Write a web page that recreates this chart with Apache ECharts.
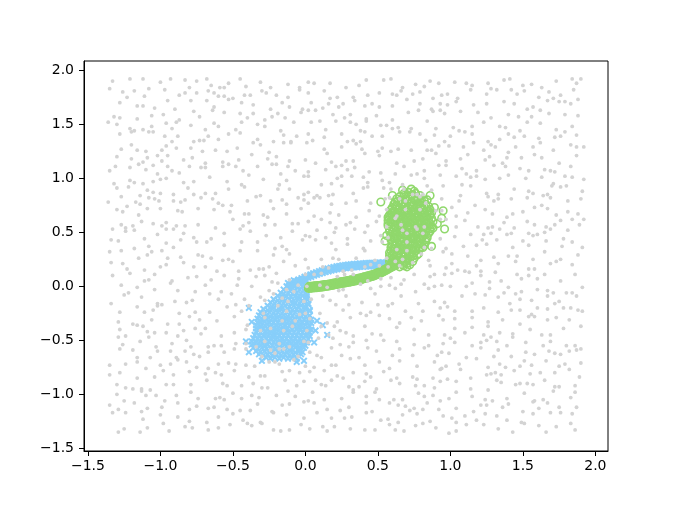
<!DOCTYPE html>
<html>
<head>
<meta charset="utf-8">
<script src="https://cdn.jsdelivr.net/npm/echarts@6/dist/echarts.min.js"></script>
<style>
html,body{margin:0;padding:0;background:#fff;}
#chart{width:675px;height:507px;}
</style>
</head>
<body>
<div id="chart"></div>
<script>
// tick labels
const xTicks = [-1.5, -1.0, -0.5, 0.0, 0.5, 1.0, 1.5, 2.0];
const yTicks = [-1.5, -1.0, -0.5, 0.0, 0.5, 1.0, 1.5, 2.0];

// blue "x" cluster (dense blob)
const blueCluster = [
[-0.08,0.055],[-0.05,0.06],[-0.02,0.05],
[-0.12,0.03],[-0.09,0.02],[-0.06,0.03],[-0.03,0.02],[0.00,0.04],
[-0.13,0.00],[-0.11,-0.01],[-0.08,0.00],[-0.05,-0.01],[-0.02,0.00],[0.01,-0.01],
[-0.15,-0.03],[-0.13,-0.04],[-0.10,-0.03],[-0.07,-0.04],[-0.04,-0.03],[-0.01,-0.04],[0.01,-0.02],
[-0.17,-0.06],[-0.15,-0.07],[-0.12,-0.06],[-0.09,-0.07],[-0.06,-0.06],[-0.03,-0.07],[0.00,-0.06],[0.01,-0.08],
[-0.19,-0.09],[-0.16,-0.10],[-0.13,-0.09],[-0.10,-0.10],[-0.07,-0.09],[-0.05,-0.10],[-0.02,-0.09],[0.01,-0.10],
[-0.22,-0.12],[-0.19,-0.13],[-0.16,-0.12],[-0.14,-0.13],[-0.11,-0.12],[-0.08,-0.13],[-0.05,-0.12],[-0.02,-0.13],[0.01,-0.12],
[-0.24,-0.15],[-0.21,-0.16],[-0.18,-0.15],[-0.15,-0.16],[-0.12,-0.15],[-0.09,-0.16],[-0.07,-0.15],[-0.04,-0.16],[-0.01,-0.15],[0.02,-0.16],
[-0.26,-0.18],[-0.23,-0.19],[-0.20,-0.18],[-0.17,-0.19],[-0.14,-0.18],[-0.11,-0.19],[-0.08,-0.18],[-0.05,-0.19],[-0.03,-0.18],[0.00,-0.19],[0.02,-0.17],
[-0.29,-0.21],[-0.26,-0.22],[-0.23,-0.21],[-0.20,-0.22],[-0.17,-0.21],[-0.14,-0.22],[-0.12,-0.21],[-0.09,-0.22],[-0.06,-0.21],[-0.03,-0.22],[0.00,-0.21],[0.03,-0.22],
[-0.31,-0.24],[-0.28,-0.25],[-0.25,-0.24],[-0.22,-0.25],[-0.19,-0.24],[-0.16,-0.25],[-0.13,-0.24],[-0.10,-0.25],[-0.07,-0.24],[-0.04,-0.25],[-0.02,-0.24],[0.01,-0.25],[0.03,-0.23],
[-0.32,-0.27],[-0.29,-0.28],[-0.27,-0.27],[-0.24,-0.28],[-0.21,-0.27],[-0.18,-0.28],[-0.15,-0.27],[-0.12,-0.28],[-0.09,-0.27],[-0.06,-0.28],[-0.03,-0.27],[0.00,-0.28],[0.03,-0.27],
[-0.33,-0.30],[-0.30,-0.31],[-0.27,-0.30],[-0.24,-0.31],[-0.21,-0.30],[-0.18,-0.31],[-0.15,-0.30],[-0.13,-0.31],[-0.10,-0.30],[-0.07,-0.31],[-0.04,-0.30],[-0.01,-0.31],[0.02,-0.30],[0.04,-0.31],
[-0.33,-0.33],[-0.31,-0.34],[-0.28,-0.33],[-0.25,-0.34],[-0.22,-0.33],[-0.19,-0.34],[-0.16,-0.33],[-0.13,-0.34],[-0.10,-0.33],[-0.08,-0.34],[-0.05,-0.33],[-0.02,-0.34],[0.01,-0.33],[0.04,-0.34],
[-0.34,-0.36],[-0.31,-0.37],[-0.28,-0.36],[-0.25,-0.37],[-0.23,-0.36],[-0.20,-0.37],[-0.17,-0.36],[-0.14,-0.37],[-0.11,-0.36],[-0.08,-0.37],[-0.05,-0.36],[-0.03,-0.37],[0.00,-0.36],[0.03,-0.37],
[-0.34,-0.39],[-0.32,-0.40],[-0.29,-0.39],[-0.26,-0.40],[-0.23,-0.39],[-0.20,-0.40],[-0.17,-0.39],[-0.14,-0.40],[-0.12,-0.39],[-0.09,-0.40],[-0.06,-0.39],[-0.03,-0.40],[0.00,-0.39],[0.04,-0.40],
[-0.34,-0.42],[-0.31,-0.43],[-0.28,-0.42],[-0.26,-0.43],[-0.23,-0.42],[-0.20,-0.43],[-0.17,-0.42],[-0.14,-0.43],[-0.11,-0.42],[-0.08,-0.43],[-0.05,-0.42],[-0.02,-0.43],[0.01,-0.42],[0.03,-0.43],
[-0.35,-0.45],[-0.32,-0.46],[-0.29,-0.45],[-0.26,-0.46],[-0.23,-0.45],[-0.21,-0.46],[-0.18,-0.45],[-0.15,-0.46],[-0.12,-0.45],[-0.09,-0.46],[-0.06,-0.45],[-0.03,-0.46],[0.00,-0.45],[0.03,-0.46],
[-0.36,-0.48],[-0.33,-0.49],[-0.30,-0.48],[-0.27,-0.49],[-0.24,-0.48],[-0.21,-0.49],[-0.19,-0.48],[-0.16,-0.49],[-0.13,-0.48],[-0.10,-0.49],[-0.07,-0.48],[-0.04,-0.49],[-0.01,-0.48],[0.02,-0.49],
[-0.37,-0.51],[-0.34,-0.52],[-0.31,-0.51],[-0.28,-0.52],[-0.25,-0.51],[-0.22,-0.52],[-0.19,-0.51],[-0.17,-0.52],[-0.14,-0.51],[-0.11,-0.52],[-0.08,-0.51],[-0.05,-0.52],[-0.02,-0.51],[0.01,-0.52],
[-0.37,-0.54],[-0.34,-0.55],[-0.31,-0.54],[-0.28,-0.55],[-0.26,-0.54],[-0.23,-0.55],[-0.20,-0.54],[-0.17,-0.55],[-0.14,-0.54],[-0.11,-0.55],[-0.08,-0.54],[-0.05,-0.55],[-0.02,-0.54],[0.00,-0.55],
[-0.36,-0.57],[-0.33,-0.58],[-0.30,-0.57],[-0.27,-0.58],[-0.24,-0.57],[-0.21,-0.58],[-0.18,-0.57],[-0.15,-0.58],[-0.12,-0.57],[-0.10,-0.58],[-0.07,-0.57],[-0.04,-0.58],[-0.01,-0.57],
[-0.34,-0.60],[-0.31,-0.61],[-0.28,-0.60],[-0.25,-0.61],[-0.22,-0.60],[-0.19,-0.61],[-0.16,-0.60],[-0.13,-0.61],[-0.10,-0.60],[-0.07,-0.61],[-0.04,-0.60],[-0.02,-0.61],
[-0.32,-0.63],[-0.29,-0.64],[-0.26,-0.63],[-0.23,-0.64],[-0.20,-0.63],[-0.17,-0.64],[-0.14,-0.63],[-0.11,-0.64],[-0.08,-0.63],[-0.05,-0.64],[-0.03,-0.63],
[-0.27,-0.66],[-0.24,-0.67],[-0.21,-0.66],[-0.18,-0.67],[-0.15,-0.66],[-0.12,-0.67],[-0.09,-0.66],[-0.06,-0.67],
[-0.39,-0.20],[-0.37,-0.33],[0.08,-0.32],[0.12,-0.36],[0.15,-0.45],[-0.39,-0.61],[-0.06,-0.70],[-0.01,-0.69],[0.06,-0.52],[-0.41,-0.51],[0.07,-0.41],[-0.30,-0.69]
];

// blue "x" trail (upper arc)
const blueTrail = [
[-0.12,-0.015],[-0.115,0.002],[-0.105,0.018],
[-0.10,0.0],[-0.093,0.016],[-0.087,0.031],
[-0.08,0.013],[-0.074,0.03],[-0.066,0.046],
[-0.06,0.028],[-0.053,0.045],[-0.047,0.061],
[-0.04,0.042],[-0.034,0.058],[-0.027,0.075],
[-0.02,0.055],[-0.013,0.071],[-0.006,0.088],
[0.00,0.066],[0.007,0.083],[0.013,0.10],
[0.02,0.078],[0.027,0.094],[0.034,0.11],
[0.04,0.087],[0.046,0.104],[0.053,0.121],
[0.06,0.098],[0.067,0.114],[0.073,0.13],
[0.08,0.106],[0.087,0.123],[0.094,0.14],
[0.10,0.116],[0.106,0.132],[0.113,0.148],
[0.12,0.123],[0.127,0.14],[0.134,0.157],
[0.14,0.132],[0.146,0.148],[0.153,0.164],
[0.16,0.138],[0.167,0.155],[0.174,0.172],
[0.18,0.146],[0.186,0.162],[0.193,0.178],
[0.20,0.151],[0.207,0.168],[0.214,0.185],
[0.22,0.157],[0.226,0.173],[0.233,0.189],
[0.24,0.16],[0.247,0.177],[0.254,0.194],
[0.26,0.165],[0.266,0.181],[0.273,0.197],
[0.28,0.167],[0.287,0.184],[0.294,0.201],
[0.30,0.171],[0.306,0.187],[0.313,0.203],
[0.32,0.173],[0.327,0.19],[0.334,0.207],
[0.34,0.176],[0.346,0.192],[0.353,0.208],
[0.36,0.177],[0.367,0.194],[0.374,0.211],
[0.38,0.18],[0.386,0.196],[0.393,0.212],
[0.40,0.181],[0.407,0.198],[0.414,0.215],
[0.42,0.184],[0.426,0.20],[0.433,0.216],
[0.44,0.184],[0.447,0.201],[0.454,0.218],
[0.46,0.186],[0.466,0.202],[0.473,0.218],
[0.48,0.186],[0.487,0.203],[0.494,0.22],
[0.50,0.188],[0.506,0.204],[0.513,0.22],
[0.52,0.188],[0.527,0.205],[0.534,0.222],
[0.54,0.189],[0.546,0.205],[0.553,0.221],
[0.56,0.188],[0.567,0.205],[0.574,0.222],
[0.58,0.189],[0.586,0.205]
];

// green "o" cluster
const greenCluster = [
[0.68,0.86],[0.71,0.87],[0.74,0.85],[0.76,0.86],
[0.65,0.83],[0.68,0.84],[0.71,0.83],[0.73,0.84],[0.76,0.83],[0.79,0.84],
[0.63,0.81],[0.66,0.80],[0.69,0.81],[0.72,0.81],[0.75,0.80],[0.78,0.81],[0.80,0.80],
[0.62,0.78],[0.64,0.79],[0.67,0.78],[0.70,0.79],[0.73,0.78],[0.76,0.79],[0.79,0.78],[0.82,0.79],
[0.61,0.76],[0.63,0.75],[0.66,0.76],[0.69,0.75],[0.72,0.76],[0.74,0.75],[0.77,0.76],[0.80,0.75],[0.83,0.76],
[0.60,0.73],[0.62,0.74],[0.65,0.73],[0.68,0.74],[0.71,0.73],[0.74,0.74],[0.77,0.73],[0.79,0.74],[0.82,0.73],[0.85,0.74],
[0.59,0.71],[0.61,0.70],[0.64,0.71],[0.67,0.70],[0.70,0.71],[0.73,0.70],[0.75,0.71],[0.78,0.70],[0.81,0.71],[0.84,0.70],[0.86,0.71],
[0.59,0.68],[0.62,0.69],[0.65,0.68],[0.68,0.69],[0.71,0.68],[0.74,0.69],[0.76,0.68],[0.79,0.69],[0.82,0.68],[0.85,0.69],[0.87,0.68],
[0.58,0.66],[0.60,0.65],[0.63,0.66],[0.66,0.65],[0.69,0.66],[0.72,0.65],[0.75,0.66],[0.77,0.65],[0.80,0.66],[0.83,0.65],[0.86,0.66],
[0.58,0.63],[0.61,0.64],[0.64,0.63],[0.67,0.64],[0.70,0.63],[0.73,0.64],[0.76,0.63],[0.78,0.64],[0.81,0.63],[0.84,0.64],[0.87,0.63],
[0.57,0.61],[0.59,0.60],[0.62,0.61],[0.65,0.60],[0.68,0.61],[0.71,0.60],[0.74,0.61],[0.77,0.60],[0.79,0.61],[0.82,0.60],[0.85,0.61],[0.88,0.60],
[0.57,0.58],[0.60,0.59],[0.63,0.58],[0.66,0.59],[0.69,0.58],[0.72,0.59],[0.75,0.58],[0.78,0.59],[0.80,0.58],[0.83,0.59],[0.86,0.58],
[0.57,0.56],[0.59,0.55],[0.62,0.56],[0.65,0.55],[0.68,0.56],[0.71,0.55],[0.73,0.56],[0.76,0.55],[0.79,0.56],[0.82,0.55],[0.85,0.56],[0.87,0.55],
[0.58,0.53],[0.61,0.54],[0.64,0.53],[0.67,0.54],[0.70,0.53],[0.72,0.54],[0.75,0.53],[0.78,0.54],[0.81,0.53],[0.84,0.54],[0.86,0.53],
[0.58,0.51],[0.60,0.50],[0.63,0.51],[0.66,0.50],[0.69,0.51],[0.72,0.50],[0.74,0.51],[0.77,0.50],[0.80,0.51],[0.83,0.50],[0.86,0.51],
[0.59,0.48],[0.62,0.49],[0.65,0.48],[0.67,0.49],[0.70,0.48],[0.73,0.49],[0.76,0.48],[0.79,0.49],[0.82,0.48],[0.85,0.49],
[0.59,0.46],[0.61,0.45],[0.64,0.46],[0.67,0.45],[0.70,0.46],[0.73,0.45],[0.75,0.46],[0.78,0.45],[0.81,0.46],[0.84,0.45],
[0.59,0.43],[0.62,0.44],[0.65,0.43],[0.68,0.44],[0.71,0.43],[0.74,0.44],[0.77,0.43],[0.80,0.44],[0.83,0.43],
[0.60,0.41],[0.63,0.40],[0.66,0.41],[0.69,0.40],[0.71,0.41],[0.74,0.40],[0.77,0.41],[0.80,0.40],[0.83,0.41],
[0.60,0.38],[0.62,0.39],[0.65,0.38],[0.68,0.39],[0.71,0.38],[0.74,0.39],[0.77,0.38],[0.79,0.39],[0.82,0.38],
[0.59,0.36],[0.62,0.35],[0.65,0.36],[0.68,0.35],[0.70,0.36],[0.73,0.35],[0.76,0.36],[0.79,0.35],[0.81,0.36],
[0.59,0.33],[0.61,0.34],[0.64,0.33],[0.67,0.34],[0.70,0.33],[0.73,0.34],[0.76,0.33],[0.78,0.34],
[0.58,0.31],[0.61,0.30],[0.64,0.31],[0.66,0.30],[0.69,0.31],[0.72,0.30],[0.75,0.31],[0.78,0.30],
[0.58,0.28],[0.60,0.29],[0.63,0.28],[0.66,0.29],[0.69,0.28],[0.72,0.29],[0.74,0.28],[0.77,0.29],
[0.58,0.26],[0.61,0.25],[0.64,0.26],[0.67,0.25],[0.70,0.26],[0.72,0.25],[0.75,0.26],
[0.58,0.23],[0.60,0.24],[0.63,0.23],[0.66,0.24],[0.69,0.23],[0.71,0.24],[0.74,0.23],
[0.59,0.21],[0.61,0.20],[0.64,0.21],[0.67,0.20],[0.70,0.21],[0.72,0.20],
[0.60,0.18],[0.62,0.19],[0.65,0.18],[0.68,0.19],[0.70,0.18],
[0.52,0.78],[0.60,0.84],[0.67,0.89],[0.73,0.90],[0.75,0.88],[0.86,0.84],[0.89,0.73],[0.95,0.70],[0.94,0.63],[0.96,0.53],[0.88,0.54],[0.87,0.37],[0.56,0.47],[0.57,0.64],[0.84,0.80],[0.91,0.58],[0.55,0.42]
];

// green "o" trail (lower arc)
const greenTrail = [
[0.02,-0.019],[0.025,-0.001],[0.03,-0.018],[0.035,0.0],[0.04,-0.017],[0.045,0.001],[0.05,-0.015],[0.055,0.003],[0.06,-0.014],[0.065,0.004],
[0.07,-0.013],[0.075,0.005],[0.08,-0.012],[0.085,0.006],[0.09,-0.01],[0.095,0.008],[0.10,-0.009],[0.105,0.009],[0.11,-0.007],[0.115,0.011],
[0.12,-0.005],[0.125,0.013],[0.13,-0.003],[0.135,0.015],[0.14,-0.001],[0.145,0.017],[0.15,0.001],[0.155,0.019],[0.16,0.003],[0.165,0.021],
[0.17,0.006],[0.175,0.024],[0.18,0.008],[0.185,0.026],[0.19,0.011],[0.195,0.029],[0.20,0.013],[0.205,0.031],[0.21,0.016],[0.215,0.034],
[0.22,0.018],[0.225,0.036],[0.23,0.021],[0.235,0.039],[0.24,0.023],[0.245,0.041],[0.25,0.026],[0.255,0.044],[0.26,0.028],[0.265,0.046],
[0.27,0.031],[0.275,0.049],[0.28,0.033],[0.285,0.051],[0.29,0.036],[0.295,0.054],[0.30,0.038],[0.305,0.056],[0.31,0.041],[0.315,0.059],
[0.32,0.043],[0.325,0.061],[0.33,0.046],[0.335,0.064],[0.34,0.049],[0.345,0.067],[0.35,0.052],[0.355,0.07],[0.36,0.055],[0.365,0.073],
[0.37,0.058],[0.375,0.076],[0.38,0.061],[0.385,0.079],[0.39,0.065],[0.395,0.083],[0.40,0.069],[0.405,0.087],[0.41,0.072],[0.415,0.09],
[0.42,0.076],[0.425,0.094],[0.43,0.08],[0.435,0.098],[0.44,0.084],[0.445,0.102],[0.45,0.087],[0.455,0.105],[0.46,0.091],[0.465,0.109],
[0.47,0.096],[0.475,0.114],[0.48,0.101],[0.485,0.119],[0.49,0.106],[0.495,0.124],[0.50,0.111],[0.505,0.129],[0.51,0.117],[0.515,0.135],
[0.52,0.123],[0.525,0.141],[0.53,0.129],[0.535,0.147],[0.54,0.136],[0.545,0.154],[0.55,0.143],[0.555,0.161],[0.56,0.15],[0.565,0.168],
[0.57,0.158],[0.575,0.176],[0.58,0.166],[0.585,0.184],[0.59,0.174],[0.595,0.192],[0.60,0.183],[0.605,0.201],[0.61,0.192],[0.615,0.21],
[0.62,0.201],[0.625,0.219],[0.63,0.211],[0.635,0.229]
];

// light gray background points
const noise = [
[-1.29,-1.35],[-1.25,-1.32],[-1.14,-1.35],[-1.09,-1.31],[-0.98,-1.27],[-0.94,-1.34],[-0.83,-1.30],[-0.78,-1.31],[-0.67,-1.33],[-0.60,-1.31],[-0.52,-1.28],[-0.40,-1.27],[-0.37,-1.29],[-0.30,-1.27],[-0.22,-1.33],[-0.17,-1.34],[-0.11,-1.33],[-0.03,-1.28],[0.03,-1.32],[0.12,-1.30],[0.15,-1.34],[0.20,-1.30],[0.31,-1.32],[0.41,-1.33],[0.48,-1.33],[0.58,-1.28],[0.62,-1.33],[0.68,-1.34],[0.76,-1.29],[0.81,-1.27],[0.90,-1.31],[0.99,-1.36],[1.04,-1.34],[1.11,-1.28],[1.23,-1.28],[1.33,-1.32],[1.43,-1.35],[1.51,-1.27],[1.61,-1.29],[1.66,-1.35],[1.73,-1.30],[1.83,-1.27],[1.86,-1.33],
[-1.33,-1.17],[-1.24,-1.17],[-1.12,-1.23],[-1.00,-1.19],[-0.88,-1.21],[-0.80,-1.25],[-0.68,-1.26],[-0.60,-1.21],[-0.50,-1.18],[-0.43,-1.24],[-0.31,-1.26],[-0.22,-1.17],[-0.13,-1.19],[-0.01,-1.22],[0.08,-1.17],[0.18,-1.22],[0.27,-1.22],[0.32,-1.21],[0.42,-1.17],[0.52,-1.24],[0.57,-1.23],[0.64,-1.26],[0.67,-1.19],[0.77,-1.18],[0.86,-1.25],[0.95,-1.20],[1.01,-1.22],[1.04,-1.26],[1.10,-1.20],[1.18,-1.24],[1.24,-1.18],[1.32,-1.20],[1.39,-1.24],[1.49,-1.26],[1.57,-1.18],[1.69,-1.17],[1.76,-1.17],[1.84,-1.18],
[-1.35,-1.10],[-1.29,-1.14],[-1.18,-1.08],[-1.13,-1.16],[-1.09,-1.13],[-0.99,-1.12],[-0.88,-1.08],[-0.80,-1.14],[-0.75,-1.11],[-0.67,-1.13],[-0.63,-1.12],[-0.54,-1.14],[-0.45,-1.15],[-0.38,-1.15],[-0.33,-1.09],[-0.23,-1.16],[-0.16,-1.10],[-0.11,-1.09],[-0.01,-1.07],[0.06,-1.08],[0.15,-1.14],[0.24,-1.15],[0.30,-1.12],[0.42,-1.08],[0.46,-1.16],[0.58,-1.08],[0.64,-1.10],[0.69,-1.11],[0.72,-1.15],[0.75,-1.13],[0.81,-1.14],[0.84,-1.08],[0.92,-1.14],[1.04,-1.13],[1.16,-1.16],[1.21,-1.10],[1.25,-1.10],[1.36,-1.12],[1.40,-1.09],[1.50,-1.16],[1.57,-1.07],[1.61,-1.13],[1.67,-1.08],[1.75,-1.12],[1.87,-1.12],
[-1.30,-1.00],[-1.25,-1.06],[-1.13,-0.97],[-1.10,-1.01],[-1.03,-1.01],[-0.97,-1.06],[-0.89,-1.01],[-0.79,-0.98],[-0.74,-1.04],[-0.62,-1.04],[-0.59,-1.03],[-0.56,-1.05],[-0.50,-0.99],[-0.44,-1.04],[-0.37,-1.01],[-0.32,-1.03],[-0.20,-1.01],[-0.12,-0.97],[-0.07,-1.02],[0.02,-1.06],[0.05,-0.98],[0.13,-1.05],[0.25,-1.04],[0.33,-0.98],[0.42,-1.02],[0.48,-0.98],[0.51,-1.05],[0.61,-1.05],[0.67,-1.05],[0.78,-0.99],[0.82,-1.02],[0.88,-1.01],[0.93,-1.06],[0.99,-1.04],[1.04,-0.98],[1.15,-1.02],[1.24,-1.05],[1.29,-1.06],[1.39,-1.04],[1.51,-0.99],[1.58,-1.06],[1.64,-1.05],[1.71,-0.97],[1.83,-1.03],[1.86,-0.98],
[-1.30,-0.91],[-1.24,-0.94],[-1.19,-0.95],[-1.13,-0.95],[-1.07,-0.96],[-0.96,-0.91],[-0.91,-0.91],[-0.79,-0.91],[-0.68,-0.87],[-0.57,-0.90],[-0.54,-0.92],[-0.44,-0.92],[-0.36,-0.90],[-0.30,-0.94],[-0.26,-0.94],[-0.14,-0.87],[-0.06,-0.92],[-0.01,-0.88],[0.07,-0.87],[0.11,-0.91],[0.14,-0.92],[0.18,-0.87],[0.30,-0.93],[0.33,-0.96],[0.37,-0.93],[0.41,-0.88],[0.49,-0.95],[0.59,-0.87],[0.65,-0.90],[0.76,-0.92],[0.82,-0.92],[0.89,-0.94],[0.93,-0.88],[1.04,-0.88],[1.14,-0.95],[1.26,-0.96],[1.32,-0.87],[1.35,-0.89],[1.45,-0.91],[1.48,-0.90],[1.53,-0.90],[1.57,-0.91],[1.65,-0.87],[1.72,-0.93],[1.75,-0.93],[1.86,-0.92],
[-1.35,-0.82],[-1.28,-0.80],[-1.16,-0.85],[-1.04,-0.84],[-0.98,-0.78],[-0.91,-0.82],[-0.80,-0.79],[-0.69,-0.81],[-0.62,-0.80],[-0.58,-0.82],[-0.49,-0.78],[-0.39,-0.84],[-0.31,-0.83],[-0.28,-0.83],[-0.16,-0.79],[-0.11,-0.78],[-0.04,-0.80],[0.03,-0.79],[0.13,-0.78],[0.22,-0.83],[0.26,-0.85],[0.33,-0.80],[0.42,-0.81],[0.45,-0.84],[0.54,-0.79],[0.63,-0.85],[0.74,-0.84],[0.77,-0.86],[0.88,-0.85],[0.93,-0.77],[0.98,-0.86],[1.07,-0.77],[1.14,-0.85],[1.25,-0.82],[1.28,-0.81],[1.31,-0.80],[1.35,-0.82],[1.44,-0.78],[1.55,-0.81],[1.62,-0.80],[1.72,-0.80],[1.82,-0.77],[1.89,-0.84],
[-1.35,-0.73],[-1.24,-0.72],[-1.16,-0.70],[-1.10,-0.76],[-1.00,-0.73],[-0.93,-0.72],[-0.88,-0.68],[-0.82,-0.70],[-0.75,-0.75],[-0.67,-0.76],[-0.60,-0.72],[-0.53,-0.71],[-0.48,-0.72],[-0.41,-0.73],[-0.35,-0.74],[-0.25,-0.70],[-0.21,-0.70],[-0.18,-0.72],[-0.08,-0.68],[0.00,-0.74],[0.06,-0.75],[0.18,-0.73],[0.21,-0.73],[0.31,-0.67],[0.41,-0.73],[0.51,-0.70],[0.58,-0.76],[0.65,-0.69],[0.77,-0.74],[0.89,-0.70],[0.94,-0.76],[0.97,-0.74],[1.06,-0.72],[1.18,-0.67],[1.26,-0.75],[1.34,-0.72],[1.38,-0.75],[1.48,-0.74],[1.51,-0.69],[1.56,-0.73],[1.66,-0.69],[1.75,-0.74],[1.79,-0.72],[1.90,-0.71],
[-1.28,-0.58],[-1.19,-0.59],[-1.16,-0.66],[-1.07,-0.66],[-1.02,-0.60],[-0.93,-0.60],[-0.89,-0.66],[-0.83,-0.60],[-0.77,-0.63],[-0.73,-0.65],[-0.67,-0.61],[-0.56,-0.61],[-0.49,-0.58],[-0.41,-0.58],[-0.30,-0.65],[-0.24,-0.59],[-0.21,-0.62],[-0.18,-0.58],[-0.15,-0.58],[-0.05,-0.65],[0.03,-0.61],[0.08,-0.64],[0.11,-0.66],[0.18,-0.57],[0.25,-0.64],[0.37,-0.66],[0.43,-0.57],[0.49,-0.60],[0.60,-0.64],[0.65,-0.58],[0.74,-0.64],[0.82,-0.57],[0.91,-0.64],[0.94,-0.61],[0.99,-0.62],[1.11,-0.66],[1.21,-0.57],[1.30,-0.65],[1.33,-0.59],[1.42,-0.65],[1.52,-0.61],[1.58,-0.63],[1.68,-0.60],[1.72,-0.62],[1.76,-0.63],[1.82,-0.60],[1.87,-0.59],[1.90,-0.58],
[-1.29,-0.47],[-1.26,-0.54],[-1.14,-0.51],[-1.08,-0.47],[-1.03,-0.56],[-0.92,-0.53],[-0.82,-0.50],[-0.79,-0.56],[-0.67,-0.56],[-0.63,-0.55],[-0.58,-0.55],[-0.48,-0.53],[-0.41,-0.53],[-0.34,-0.56],[-0.28,-0.51],[-0.18,-0.53],[-0.11,-0.56],[-0.01,-0.51],[0.02,-0.52],[0.09,-0.48],[0.19,-0.48],[0.24,-0.54],[0.30,-0.56],[0.33,-0.52],[0.42,-0.50],[0.54,-0.50],[0.63,-0.51],[0.75,-0.54],[0.85,-0.55],[0.95,-0.53],[1.00,-0.48],[1.03,-0.52],[1.15,-0.55],[1.21,-0.52],[1.25,-0.50],[1.28,-0.47],[1.32,-0.51],[1.39,-0.55],[1.43,-0.47],[1.52,-0.52],[1.64,-0.55],[1.69,-0.51],[1.80,-0.55],[1.86,-0.55],
[-1.28,-0.40],[-1.24,-0.46],[-1.12,-0.37],[-1.09,-0.42],[-1.04,-0.43],[-0.96,-0.43],[-0.88,-0.46],[-0.84,-0.41],[-0.76,-0.39],[-0.72,-0.44],[-0.69,-0.39],[-0.58,-0.46],[-0.49,-0.43],[-0.41,-0.40],[-0.31,-0.41],[-0.24,-0.39],[-0.15,-0.41],[-0.09,-0.37],[0.01,-0.41],[0.11,-0.37],[0.16,-0.45],[0.20,-0.37],[0.24,-0.41],[0.28,-0.43],[0.33,-0.46],[0.41,-0.37],[0.46,-0.44],[0.52,-0.45],[0.63,-0.38],[0.75,-0.40],[0.85,-0.45],[0.96,-0.45],[1.03,-0.39],[1.10,-0.43],[1.15,-0.38],[1.23,-0.45],[1.26,-0.37],[1.34,-0.43],[1.43,-0.44],[1.55,-0.40],[1.63,-0.45],[1.69,-0.45],[1.78,-0.39],[1.90,-0.37],
[-1.29,-0.33],[-1.19,-0.35],[-1.16,-0.36],[-1.06,-0.31],[-0.95,-0.35],[-0.87,-0.35],[-0.80,-0.28],[-0.73,-0.31],[-0.61,-0.32],[-0.49,-0.28],[-0.40,-0.36],[-0.28,-0.29],[-0.16,-0.32],[-0.07,-0.32],[0.03,-0.30],[0.15,-0.34],[0.22,-0.33],[0.31,-0.29],[0.42,-0.27],[0.51,-0.27],[0.58,-0.30],[0.65,-0.34],[0.73,-0.29],[0.80,-0.32],[0.92,-0.27],[0.95,-0.31],[1.03,-0.30],[1.15,-0.29],[1.26,-0.33],[1.36,-0.31],[1.48,-0.35],[1.54,-0.28],[1.58,-0.28],[1.67,-0.31],[1.73,-0.29],[1.82,-0.31],
[-1.28,-0.24],[-1.16,-0.19],[-1.11,-0.24],[-1.05,-0.22],[-1.02,-0.18],[-0.99,-0.17],[-0.87,-0.25],[-0.76,-0.24],[-0.66,-0.24],[-0.54,-0.19],[-0.48,-0.17],[-0.44,-0.23],[-0.39,-0.18],[-0.29,-0.25],[-0.19,-0.18],[-0.13,-0.23],[-0.04,-0.26],[0.00,-0.25],[0.10,-0.25],[0.21,-0.17],[0.26,-0.22],[0.30,-0.17],[0.38,-0.25],[0.45,-0.24],[0.50,-0.17],[0.57,-0.18],[0.69,-0.23],[0.81,-0.23],[0.93,-0.20],[0.98,-0.19],[1.03,-0.23],[1.15,-0.23],[1.23,-0.20],[1.33,-0.24],[1.42,-0.22],[1.48,-0.22],[1.56,-0.26],[1.60,-0.20],[1.67,-0.21],[1.78,-0.20],[1.83,-0.20],[1.88,-0.22],[1.91,-0.23],
[-1.34,-0.16],[-1.25,-0.08],[-1.13,-0.10],[-1.02,-0.16],[-0.90,-0.14],[-0.82,-0.15],[-0.78,-0.13],[-0.66,-0.07],[-0.60,-0.12],[-0.51,-0.07],[-0.42,-0.12],[-0.31,-0.10],[-0.28,-0.13],[-0.22,-0.07],[-0.16,-0.11],[-0.12,-0.14],[-0.01,-0.14],[0.04,-0.12],[0.12,-0.09],[0.17,-0.13],[0.28,-0.09],[0.39,-0.15],[0.48,-0.07],[0.60,-0.16],[0.66,-0.09],[0.78,-0.16],[0.89,-0.14],[0.96,-0.15],[1.08,-0.09],[1.17,-0.07],[1.24,-0.08],[1.33,-0.10],[1.41,-0.16],[1.45,-0.07],[1.48,-0.12],[1.56,-0.13],[1.67,-0.09],[1.72,-0.16],[1.75,-0.14],[1.87,-0.09],
[-1.27,0.01],[-1.22,-0.06],[-1.16,-0.01],[-1.04,-0.03],[-0.93,0.03],[-0.88,-0.04],[-0.76,-0.05],[-0.69,0.01],[-0.58,-0.05],[-0.47,0.01],[-0.37,0.00],[-0.25,-0.04],[-0.19,0.03],[-0.13,-0.03],[-0.08,-0.05],[-0.05,0.01],[0.01,0.00],[0.10,0.01],[0.15,-0.01],[0.23,-0.04],[0.26,-0.03],[0.38,0.02],[0.45,-0.02],[0.52,0.00],[0.58,0.01],[0.62,-0.02],[0.66,0.02],[0.76,-0.05],[0.82,0.02],[0.85,-0.02],[0.89,0.00],[0.94,0.01],[1.00,0.00],[1.11,0.00],[1.15,0.03],[1.27,-0.02],[1.37,-0.06],[1.40,-0.01],[1.49,-0.05],[1.60,-0.03],[1.67,-0.04],[1.71,-0.06],[1.80,-0.06],[1.84,-0.06],[1.91,-0.01],
[-1.33,0.10],[-1.21,0.12],[-1.11,0.05],[-1.08,0.06],[-1.04,0.11],[-0.92,0.05],[-0.81,0.08],[-0.75,0.09],[-0.65,0.06],[-0.56,0.10],[-0.46,0.07],[-0.34,0.09],[-0.28,0.10],[-0.23,0.04],[-0.20,0.12],[-0.11,0.06],[0.00,0.11],[0.06,0.11],[0.11,0.12],[0.22,0.09],[0.27,0.11],[0.33,0.11],[0.43,0.05],[0.52,0.07],[0.59,0.08],[0.68,0.06],[0.75,0.11],[0.86,0.09],[0.89,0.11],[0.96,0.11],[1.01,0.12],[1.13,0.13],[1.21,0.10],[1.27,0.04],[1.31,0.13],[1.35,0.05],[1.46,0.11],[1.49,0.07],[1.54,0.10],[1.60,0.07],[1.65,0.11],[1.76,0.05],[1.86,0.11],
[-1.34,0.22],[-1.26,0.21],[-1.23,0.16],[-1.11,0.15],[-1.00,0.18],[-0.96,0.20],[-0.84,0.22],[-0.77,0.18],[-0.69,0.18],[-0.61,0.14],[-0.50,0.23],[-0.46,0.14],[-0.38,0.15],[-0.32,0.16],[-0.29,0.16],[-0.25,0.18],[-0.15,0.23],[-0.07,0.19],[0.02,0.17],[0.12,0.18],[0.16,0.17],[0.26,0.14],[0.32,0.15],[0.41,0.18],[0.45,0.20],[0.51,0.19],[0.57,0.18],[0.62,0.23],[0.65,0.19],[0.74,0.22],[0.86,0.19],[0.97,0.17],[1.01,0.21],[1.05,0.15],[1.10,0.14],[1.18,0.19],[1.21,0.14],[1.33,0.21],[1.45,0.23],[1.54,0.16],[1.58,0.16],[1.69,0.21],[1.73,0.23],[1.84,0.20],
[-1.35,0.32],[-1.27,0.33],[-1.15,0.26],[-1.09,0.29],[-1.06,0.32],[-0.99,0.33],[-0.95,0.26],[-0.86,0.27],[-0.74,0.29],[-0.71,0.28],[-0.65,0.26],[-0.57,0.24],[-0.53,0.25],[-0.45,0.33],[-0.33,0.33],[-0.22,0.29],[-0.11,0.30],[0.00,0.25],[0.11,0.25],[0.19,0.26],[0.23,0.25],[0.35,0.26],[0.41,0.33],[0.48,0.24],[0.56,0.26],[0.67,0.25],[0.70,0.33],[0.80,0.30],[0.85,0.24],[0.95,0.32],[1.01,0.30],[1.12,0.28],[1.21,0.24],[1.30,0.27],[1.40,0.28],[1.46,0.28],[1.57,0.25],[1.65,0.32],[1.76,0.25],[1.88,0.29],
[-1.34,0.43],[-1.29,0.42],[-1.18,0.35],[-1.08,0.37],[-0.96,0.40],[-0.91,0.36],[-0.86,0.43],[-0.75,0.41],[-0.68,0.41],[-0.56,0.38],[-0.44,0.41],[-0.33,0.41],[-0.21,0.35],[-0.16,0.37],[-0.13,0.34],[-0.02,0.43],[0.07,0.43],[0.18,0.40],[0.21,0.34],[0.29,0.39],[0.40,0.35],[0.45,0.42],[0.53,0.41],[0.63,0.34],[0.70,0.41],[0.82,0.36],[0.87,0.35],[0.97,0.35],[1.09,0.37],[1.18,0.38],[1.22,0.43],[1.25,0.39],[1.32,0.43],[1.43,0.36],[1.50,0.42],[1.54,0.38],[1.66,0.42],[1.77,0.37],[1.84,0.41],[1.91,0.36],
[-1.33,0.53],[-1.24,0.51],[-1.18,0.52],[-1.11,0.44],[-1.02,0.48],[-0.96,0.53],[-0.91,0.53],[-0.84,0.49],[-0.77,0.45],[-0.65,0.44],[-0.56,0.49],[-0.45,0.53],[-0.38,0.51],[-0.27,0.47],[-0.17,0.45],[-0.09,0.51],[0.00,0.47],[0.03,0.46],[0.08,0.52],[0.14,0.45],[0.20,0.50],[0.29,0.44],[0.34,0.53],[0.41,0.50],[0.52,0.47],[0.57,0.45],[0.67,0.52],[0.70,0.49],[0.77,0.53],[0.81,0.49],[0.93,0.44],[1.03,0.46],[1.14,0.48],[1.23,0.48],[1.28,0.49],[1.34,0.53],[1.39,0.48],[1.42,0.49],[1.54,0.49],[1.57,0.47],[1.60,0.48],[1.65,0.50],[1.69,0.53],[1.78,0.44],[1.81,0.52],
[-1.27,0.57],[-1.24,0.54],[-1.19,0.56],[-1.13,0.60],[-1.05,0.58],[-0.99,0.56],[-0.96,0.59],[-0.89,0.56],[-0.83,0.56],[-0.74,0.57],[-0.62,0.54],[-0.50,0.62],[-0.43,0.56],[-0.39,0.59],[-0.28,0.57],[-0.21,0.57],[-0.09,0.58],[-0.05,0.58],[0.02,0.60],[0.11,0.62],[0.17,0.59],[0.21,0.54],[0.28,0.57],[0.31,0.59],[0.43,0.56],[0.49,0.60],[0.56,0.55],[0.62,0.63],[0.66,0.57],[0.76,0.55],[0.82,0.55],[0.93,0.62],[0.97,0.62],[1.04,0.55],[1.10,0.61],[1.19,0.55],[1.26,0.54],[1.29,0.55],[1.37,0.59],[1.44,0.54],[1.53,0.60],[1.58,0.57],[1.66,0.55],[1.72,0.57],[1.76,0.61],[1.84,0.62],[1.89,0.57],[1.92,0.62],
[-1.30,0.71],[-1.26,0.69],[-1.15,0.66],[-1.09,0.72],[-1.00,0.72],[-0.88,0.70],[-0.85,0.69],[-0.74,0.72],[-0.63,0.71],[-0.52,0.69],[-0.42,0.67],[-0.39,0.67],[-0.29,0.66],[-0.26,0.64],[-0.22,0.72],[-0.13,0.67],[-0.03,0.72],[0.06,0.65],[0.17,0.68],[0.23,0.66],[0.35,0.64],[0.44,0.70],[0.51,0.65],[0.56,0.71],[0.63,0.65],[0.69,0.71],[0.79,0.71],[0.90,0.70],[0.94,0.70],[1.01,0.73],[1.04,0.65],[1.12,0.68],[1.24,0.71],[1.29,0.67],[1.39,0.64],[1.43,0.67],[1.50,0.69],[1.58,0.73],[1.67,0.72],[1.73,0.66],[1.81,0.69],[1.88,0.67],
[-1.36,0.78],[-1.27,0.83],[-1.23,0.74],[-1.17,0.78],[-1.14,0.76],[-1.08,0.82],[-1.04,0.81],[-1.01,0.79],[-0.91,0.79],[-0.86,0.78],[-0.83,0.80],[-0.72,0.82],[-0.64,0.81],[-0.60,0.77],[-0.57,0.75],[-0.51,0.75],[-0.40,0.79],[-0.34,0.83],[-0.24,0.79],[-0.16,0.80],[-0.13,0.76],[-0.05,0.82],[-0.01,0.80],[0.02,0.77],[0.06,0.82],[0.10,0.82],[0.18,0.76],[0.28,0.77],[0.35,0.79],[0.45,0.77],[0.55,0.81],[0.58,0.82],[0.65,0.81],[0.69,0.79],[0.79,0.83],[0.83,0.77],[0.94,0.81],[1.06,0.79],[1.17,0.75],[1.26,0.83],[1.30,0.79],[1.33,0.81],[1.42,0.81],[1.53,0.82],[1.63,0.75],[1.69,0.82],[1.81,0.79],[1.90,0.81],
[-1.30,0.91],[-1.22,0.92],[-1.14,0.84],[-1.09,0.89],[-1.05,0.87],[-1.00,0.86],[-0.91,0.85],[-0.81,0.91],[-0.77,0.85],[-0.69,0.86],[-0.62,0.86],[-0.53,0.90],[-0.42,0.92],[-0.31,0.84],[-0.19,0.90],[-0.11,0.90],[-0.01,0.85],[0.02,0.87],[0.08,0.84],[0.16,0.84],[0.19,0.85],[0.25,0.93],[0.33,0.86],[0.40,0.91],[0.43,0.92],[0.54,0.91],[0.59,0.90],[0.68,0.90],[0.74,0.85],[0.77,0.85],[0.81,0.85],[0.84,0.93],[0.87,0.89],[0.95,0.93],[1.07,0.84],[1.14,0.93],[1.25,0.86],[1.33,0.85],[1.44,0.90],[1.54,0.88],[1.57,0.86],[1.64,0.84],[1.67,0.85],[1.70,0.93],[1.76,0.92],[1.80,0.93],[1.91,0.88],
[-1.32,0.95],[-1.21,0.98],[-1.18,0.96],[-1.12,0.95],[-1.05,0.97],[-1.00,0.99],[-0.96,1.00],[-0.84,0.96],[-0.77,0.97],[-0.66,1.01],[-0.54,0.97],[-0.44,0.94],[-0.39,1.03],[-0.29,0.99],[-0.18,0.94],[-0.13,0.98],[-0.01,1.02],[0.02,1.02],[0.11,0.94],[0.18,0.95],[0.22,1.00],[0.25,1.02],[0.32,1.02],[0.40,1.01],[0.43,0.96],[0.53,0.98],[0.58,0.96],[0.67,0.94],[0.73,1.03],[0.82,1.00],[0.93,1.03],[1.04,1.02],[1.08,0.94],[1.14,1.01],[1.18,1.02],[1.24,0.99],[1.34,1.00],[1.40,1.03],[1.52,1.00],[1.63,1.01],[1.71,0.95],[1.79,1.02],[1.84,1.01],[1.92,0.99],
[-1.35,1.07],[-1.31,1.11],[-1.21,1.10],[-1.15,1.13],[-1.10,1.08],[-1.05,1.12],[-1.02,1.04],[-0.95,1.11],[-0.92,1.07],[-0.87,1.05],[-0.80,1.11],[-0.72,1.10],[-0.69,1.10],[-0.57,1.11],[-0.53,1.13],[-0.48,1.11],[-0.43,1.07],[-0.33,1.11],[-0.23,1.13],[-0.20,1.13],[-0.17,1.04],[-0.12,1.11],[-0.07,1.07],[0.02,1.06],[0.14,1.08],[0.21,1.11],[0.25,1.12],[0.29,1.08],[0.34,1.10],[0.44,1.06],[0.52,1.05],[0.62,1.04],[0.68,1.11],[0.77,1.04],[0.82,1.07],[0.92,1.12],[0.97,1.12],[1.08,1.09],[1.11,1.04],[1.18,1.07],[1.30,1.12],[1.38,1.11],[1.48,1.09],[1.54,1.07],[1.65,1.08],[1.69,1.07],[1.72,1.06],[1.83,1.11],
[-1.30,1.20],[-1.20,1.18],[-1.12,1.15],[-1.09,1.19],[-1.02,1.21],[-0.99,1.16],[-0.95,1.21],[-0.84,1.17],[-0.78,1.19],[-0.69,1.14],[-0.57,1.15],[-0.46,1.17],[-0.37,1.22],[-0.26,1.18],[-0.20,1.20],[-0.11,1.16],[0.00,1.17],[0.07,1.14],[0.15,1.23],[0.18,1.15],[0.28,1.16],[0.33,1.16],[0.41,1.23],[0.51,1.21],[0.63,1.14],[0.75,1.16],[0.81,1.18],[0.90,1.23],[0.97,1.16],[1.07,1.18],[1.12,1.22],[1.24,1.17],[1.27,1.20],[1.36,1.14],[1.39,1.19],[1.49,1.19],[1.58,1.22],[1.63,1.19],[1.75,1.14],[1.87,1.21],
[-1.27,1.27],[-1.20,1.31],[-1.16,1.26],[-1.10,1.25],[-0.99,1.26],[-0.96,1.30],[-0.89,1.28],[-0.79,1.28],[-0.71,1.25],[-0.62,1.26],[-0.54,1.25],[-0.47,1.28],[-0.36,1.33],[-0.31,1.31],[-0.25,1.24],[-0.15,1.33],[-0.10,1.33],[0.01,1.33],[0.13,1.27],[0.25,1.29],[0.35,1.32],[0.39,1.27],[0.50,1.25],[0.53,1.28],[0.59,1.25],[0.64,1.27],[0.73,1.26],[0.84,1.26],[0.87,1.26],[0.92,1.30],[0.99,1.30],[1.09,1.29],[1.16,1.33],[1.23,1.26],[1.28,1.31],[1.31,1.29],[1.40,1.24],[1.45,1.29],[1.57,1.29],[1.62,1.33],[1.71,1.26],[1.83,1.31],[1.87,1.29],[1.92,1.29],
[-1.28,1.41],[-1.20,1.43],[-1.08,1.43],[-1.05,1.43],[-0.97,1.39],[-0.92,1.34],[-0.88,1.39],[-0.77,1.34],[-0.73,1.35],[-0.70,1.35],[-0.67,1.39],[-0.60,1.36],[-0.53,1.41],[-0.45,1.42],[-0.33,1.36],[-0.22,1.34],[-0.15,1.40],[-0.10,1.34],[-0.06,1.39],[0.02,1.41],[0.05,1.35],[0.13,1.38],[0.25,1.41],[0.29,1.34],[0.33,1.35],[0.38,1.34],[0.41,1.43],[0.46,1.39],[0.53,1.39],[0.65,1.43],[0.72,1.43],[0.79,1.41],[0.83,1.35],[0.89,1.40],[0.96,1.34],[1.00,1.39],[1.10,1.43],[1.15,1.41],[1.26,1.34],[1.34,1.36],[1.40,1.41],[1.44,1.38],[1.51,1.39],[1.61,1.37],[1.72,1.38],[1.76,1.39],[1.79,1.43],[1.87,1.40],
[-1.36,1.52],[-1.30,1.50],[-1.21,1.46],[-1.18,1.44],[-1.12,1.45],[-1.06,1.48],[-0.96,1.51],[-0.92,1.46],[-0.89,1.52],[-0.79,1.49],[-0.69,1.45],[-0.63,1.51],[-0.60,1.48],[-0.48,1.45],[-0.44,1.52],[-0.33,1.50],[-0.28,1.48],[-0.17,1.44],[-0.08,1.52],[0.04,1.52],[0.10,1.53],[0.14,1.45],[0.21,1.53],[0.31,1.52],[0.35,1.50],[0.38,1.44],[0.42,1.53],[0.52,1.49],[0.56,1.49],[0.60,1.46],[0.64,1.47],[0.73,1.46],[0.84,1.53],[0.90,1.46],[1.02,1.47],[1.06,1.44],[1.15,1.48],[1.23,1.52],[1.34,1.48],[1.38,1.47],[1.48,1.44],[1.53,1.52],[1.62,1.51],[1.73,1.45],[1.84,1.48],
[-1.32,1.57],[-1.28,1.56],[-1.16,1.55],[-1.06,1.58],[-0.98,1.59],[-0.87,1.54],[-0.77,1.62],[-0.73,1.57],[-0.64,1.63],[-0.56,1.61],[-0.45,1.60],[-0.40,1.56],[-0.36,1.60],[-0.28,1.54],[-0.23,1.57],[-0.19,1.60],[-0.14,1.56],[-0.03,1.61],[0.02,1.63],[0.07,1.63],[0.19,1.59],[0.27,1.56],[0.31,1.59],[0.42,1.55],[0.49,1.58],[0.60,1.54],[0.71,1.61],[0.78,1.63],[0.88,1.62],[0.93,1.63],[0.96,1.60],[1.07,1.62],[1.19,1.61],[1.28,1.56],[1.40,1.59],[1.47,1.57],[1.56,1.57],[1.62,1.63],[1.68,1.60],[1.79,1.59],[1.88,1.58],
[-1.28,1.70],[-1.16,1.67],[-1.12,1.67],[-1.04,1.65],[-0.95,1.72],[-0.90,1.64],[-0.79,1.72],[-0.68,1.72],[-0.63,1.66],[-0.53,1.73],[-0.44,1.70],[-0.36,1.68],[-0.24,1.64],[-0.16,1.70],[-0.11,1.66],[-0.02,1.64],[0.04,1.70],[0.12,1.65],[0.16,1.69],[0.23,1.66],[0.26,1.69],[0.34,1.72],[0.41,1.67],[0.46,1.69],[0.51,1.66],[0.60,1.67],[0.70,1.73],[0.79,1.69],[0.87,1.64],[0.93,1.69],[0.98,1.68],[1.04,1.71],[1.16,1.68],[1.25,1.69],[1.37,1.71],[1.44,1.69],[1.53,1.64],[1.57,1.66],[1.67,1.72],[1.75,1.71],[1.79,1.71],[1.83,1.69],[1.88,1.73],
[-1.35,1.83],[-1.26,1.80],[-1.23,1.75],[-1.18,1.81],[-1.11,1.76],[-1.08,1.83],[-0.97,1.82],[-0.87,1.77],[-0.83,1.79],[-0.75,1.79],[-0.67,1.81],[-0.63,1.79],[-0.60,1.76],[-0.56,1.76],[-0.50,1.74],[-0.42,1.77],[-0.38,1.77],[-0.30,1.81],[-0.27,1.79],[-0.20,1.77],[-0.12,1.75],[-0.04,1.82],[0.02,1.79],[0.13,1.81],[0.17,1.74],[0.22,1.75],[0.33,1.75],[0.43,1.77],[0.51,1.79],[0.60,1.78],[0.63,1.77],[0.66,1.81],[0.74,1.78],[0.79,1.80],[0.88,1.74],[0.94,1.77],[0.98,1.78],[1.05,1.74],[1.14,1.82],[1.25,1.78],[1.28,1.83],[1.32,1.82],[1.42,1.82],[1.46,1.78],[1.51,1.81],[1.61,1.75],[1.68,1.80],[1.71,1.74],[1.76,1.77],[1.85,1.82],
[-1.33,1.90],[-1.21,1.92],[-1.12,1.92],[-1.00,1.89],[-0.93,1.92],[-0.83,1.91],[-0.80,1.84],[-0.75,1.90],[-0.68,1.92],[-0.65,1.86],[-0.59,1.84],[-0.56,1.84],[-0.53,1.88],[-0.45,1.92],[-0.41,1.85],[-0.31,1.89],[-0.24,1.84],[-0.12,1.87],[-0.04,1.84],[0.02,1.89],[0.06,1.88],[0.17,1.88],[0.28,1.84],[0.37,1.86],[0.42,1.91],[0.54,1.91],[0.59,1.92],[0.67,1.84],[0.76,1.87],[0.82,1.85],[0.86,1.90],[0.92,1.88],[1.03,1.89],[1.11,1.88],[1.15,1.86],[1.26,1.88],[1.37,1.91],[1.41,1.92],[1.50,1.86],[1.56,1.87],[1.63,1.84],[1.73,1.90],[1.84,1.92],[1.87,1.88],[1.90,1.92]
];

const fmt = v => v.toFixed(1).replace('-', '\u2212');
const font = 'DejaVu Sans';
const xMark = 'path://M0,2L2,0L5,3L8,0L10,2L7,5L10,8L8,10L5,7L2,10L0,8L3,5Z';

function axis(min, max, ticks, isX) {
  return {
    type: 'value', min: min, max: max,
    axisLine: { show: true, onZero: false, lineStyle: { color: '#000', width: 1 } },
    axisTick: { show: true, inside: false, length: 5, customValues: ticks, lineStyle: { color: '#000', width: 1 } },
    axisLabel: { customValues: ticks, formatter: fmt, color: '#000', fontSize: 14, fontFamily: font, margin: isX ? 8 : 10 },
    splitLine: { show: false }
  };
}

const chart = echarts.init(document.getElementById('chart'), null, { renderer: 'canvas' });
chart.setOption({
  animation: false,
  backgroundColor: '#fff',
  grid: { left: 84, right: 67, top: 61, bottom: 56, show: true, borderColor: '#000', borderWidth: 1, backgroundColor: 'transparent' },
  xAxis: axis(-1.527, 2.087, xTicks, true),
  yAxis: axis(-1.525, 2.086, yTicks, false),
  series: [
    { type: 'scatter', silent: true, symbol: xMark, symbolSize: 7, data: blueCluster.concat(blueTrail),
      itemStyle: { color: '#87cefa', opacity: 1 } },
    { type: 'scatter', silent: true, symbol: 'circle', symbolSize: 7.5, data: greenCluster.concat(greenTrail),
      itemStyle: { color: 'rgba(0,0,0,0)', borderColor: '#90d86c', borderWidth: 1.6, opacity: 1 } },
    { type: 'scatter', silent: true, symbol: 'circle', symbolSize: 3.8, data: noise,
      itemStyle: { color: '#d3d3d3', opacity: 1 } }
  ]
});
</script>
</body>
</html>
